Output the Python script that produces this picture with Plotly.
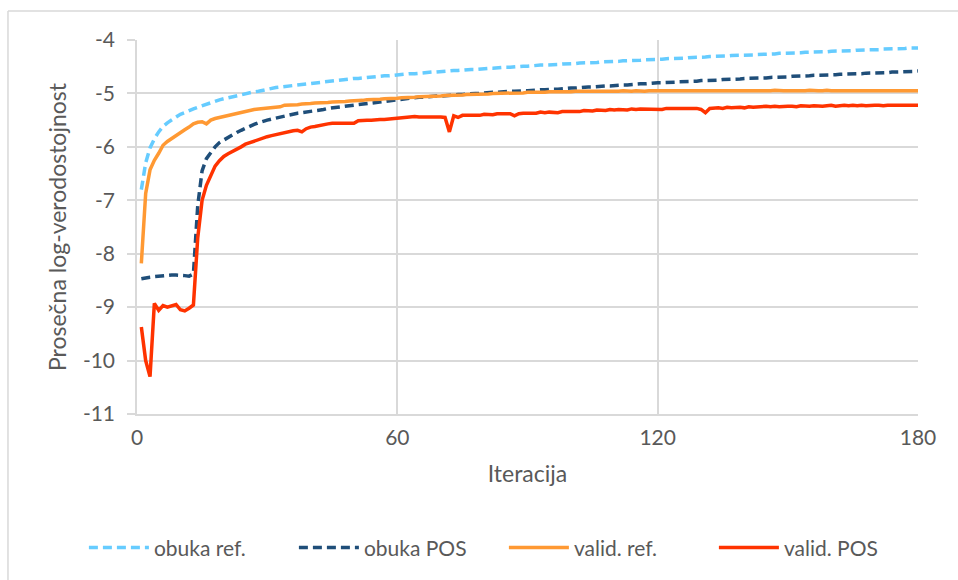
import plotly.graph_objects as go

iterations = list(range(1, 181))

obuka_ref = [
    -6.80, -6.30, -6.02, -5.85, -5.72, -5.62, -5.55, -5.49, -5.44, -5.39,
    -5.36, -5.32, -5.29, -5.26, -5.23, -5.20, -5.17, -5.15, -5.12, -5.10,
    -5.08, -5.06, -5.04, -5.02, -5.00, -4.99, -4.97, -4.96, -4.94, -4.93,
    -4.91, -4.89, -4.88, -4.87, -4.86, -4.85, -4.84, -4.83, -4.82, -4.81,
    -4.80, -4.79, -4.78, -4.77, -4.76, -4.75, -4.75, -4.74, -4.73, -4.72,
    -4.72, -4.71, -4.70, -4.69, -4.69, -4.68, -4.67, -4.67, -4.66, -4.65,
    -4.65, -4.64, -4.63, -4.63, -4.62, -4.61, -4.61, -4.60, -4.60, -4.59,
    -4.58, -4.58, -4.57, -4.57, -4.56, -4.56, -4.55, -4.55, -4.54, -4.54,
    -4.53, -4.53, -4.52, -4.52, -4.51, -4.51, -4.50, -4.50, -4.49, -4.49,
    -4.48, -4.48, -4.47, -4.47, -4.47, -4.46, -4.46, -4.45, -4.45, -4.44,
    -4.44, -4.43, -4.43, -4.43, -4.42, -4.42, -4.41, -4.41, -4.40, -4.40,
    -4.40, -4.39, -4.39, -4.38, -4.38, -4.38, -4.37, -4.37, -4.36, -4.36,
    -4.36, -4.35, -4.35, -4.34, -4.34, -4.34, -4.33, -4.33, -4.32, -4.32,
    -4.32, -4.31, -4.31, -4.31, -4.30, -4.30, -4.29, -4.29, -4.29, -4.28,
    -4.28, -4.28, -4.27, -4.27, -4.26, -4.26, -4.26, -4.25, -4.25, -4.25,
    -4.24, -4.24, -4.24, -4.23, -4.23, -4.23, -4.22, -4.22, -4.22, -4.21,
    -4.21, -4.21, -4.20, -4.20, -4.20, -4.19, -4.19, -4.19, -4.18, -4.18,
    -4.18, -4.17, -4.17, -4.17, -4.16, -4.16, -4.16, -4.15, -4.15, -4.15,
]

obuka_pos = [
    -8.47, -8.45, -8.44, -8.43, -8.42, -8.41, -8.41, -8.40, -8.40, -8.40,
    -8.41, -8.42, -8.38, -7.10, -6.45, -6.22, -6.10, -6.00, -5.92, -5.87,
    -5.82, -5.77, -5.73, -5.69, -5.65, -5.62, -5.58, -5.55, -5.52, -5.50,
    -5.48, -5.46, -5.44, -5.42, -5.41, -5.39, -5.37, -5.36, -5.35, -5.33,
    -5.32, -5.31, -5.30, -5.28, -5.27, -5.26, -5.25, -5.24, -5.23, -5.21,
    -5.20, -5.19, -5.18, -5.17, -5.16, -5.15, -5.14, -5.13, -5.12, -5.11,
    -5.10, -5.09, -5.09, -5.08, -5.07, -5.07, -5.06, -5.06, -5.05, -5.05,
    -5.04, -5.03, -5.03, -5.02, -5.02, -5.01, -5.01, -5.00, -5.00, -4.99,
    -4.99, -4.98, -4.98, -4.97, -4.97, -4.96, -4.96, -4.95, -4.95, -4.95,
    -4.94, -4.94, -4.93, -4.93, -4.92, -4.92, -4.92, -4.91, -4.91, -4.90,
    -4.90, -4.89, -4.89, -4.88, -4.88, -4.87, -4.87, -4.86, -4.86, -4.85,
    -4.85, -4.84, -4.84, -4.83, -4.83, -4.82, -4.82, -4.81, -4.81, -4.80,
    -4.80, -4.80, -4.79, -4.79, -4.78, -4.78, -4.78, -4.77, -4.77, -4.76,
    -4.76, -4.76, -4.75, -4.75, -4.74, -4.74, -4.74, -4.73, -4.73, -4.72,
    -4.72, -4.72, -4.71, -4.71, -4.71, -4.70, -4.70, -4.69, -4.69, -4.69,
    -4.68, -4.68, -4.68, -4.67, -4.67, -4.66, -4.66, -4.66, -4.65, -4.65,
    -4.65, -4.64, -4.64, -4.64, -4.63, -4.63, -4.63, -4.62, -4.62, -4.62,
    -4.61, -4.61, -4.61, -4.60, -4.60, -4.60, -4.59, -4.59, -4.59, -4.58,
]

valid_ref = [
    -8.18, -6.87, -6.43, -6.25, -6.12, -5.97, -5.90, -5.84, -5.78, -5.72,
    -5.68, -5.63, -5.57, -5.54, -5.53, -5.57, -5.50, -5.47, -5.45, -5.43,
    -5.41, -5.39, -5.37, -5.35, -5.33, -5.31, -5.30, -5.29, -5.28, -5.27,
    -5.27, -5.26, -5.25, -5.22, -5.22, -5.21, -5.21, -5.20, -5.20, -5.19,
    -5.18, -5.18, -5.17, -5.17, -5.16, -5.16, -5.15, -5.15, -5.14, -5.14,
    -5.13, -5.13, -5.12, -5.12, -5.11, -5.11, -5.10, -5.10, -5.09, -5.09,
    -5.08, -5.08, -5.07, -5.07, -5.06, -5.06, -5.06, -5.05, -5.05, -5.05,
    -5.04, -5.04, -5.04, -5.03, -5.03, -5.02, -5.02, -5.02, -5.01, -5.01,
    -5.01, -5.00, -5.00, -5.00, -5.00, -4.99, -4.99, -4.99, -4.99, -4.98,
    -4.98, -4.98, -4.99, -4.98, -4.97, -4.97, -4.97, -4.98, -4.97, -4.97,
    -4.96, -4.96, -4.97, -4.96, -4.96, -4.96, -4.97, -4.96, -4.96, -4.96,
    -4.96, -4.95, -4.96, -4.96, -4.95, -4.96, -4.96, -4.95, -4.95, -4.96,
    -4.96, -4.95, -4.96, -4.95, -4.96, -4.95, -4.95, -4.96, -4.95, -4.95,
    -4.96, -4.95, -4.95, -4.95, -4.96, -4.95, -4.95, -4.95, -4.96, -4.95,
    -4.95, -4.95, -4.96, -4.95, -4.95, -4.95, -4.94, -4.95, -4.95, -4.95,
    -4.95, -4.96, -4.95, -4.95, -4.94, -4.95, -4.95, -4.95, -4.94, -4.95,
    -4.95, -4.94, -4.95, -4.95, -4.95, -4.94, -4.95, -4.94, -4.95, -4.95,
    -4.94, -4.95, -4.94, -4.95, -4.94, -4.94, -4.95, -4.94, -4.94, -4.95,
]

valid_pos = [
    -9.37, -10.00, -10.30, -8.93, -9.06, -8.97, -9.00, -8.98, -8.95, -9.05,
    -9.07, -9.02, -8.96, -7.70, -7.00, -6.72, -6.52, -6.36, -6.26, -6.18,
    -6.13, -6.09, -6.05, -6.00, -5.95, -5.92, -5.89, -5.87, -5.84, -5.81,
    -5.79, -5.77, -5.75, -5.73, -5.71, -5.70, -5.69, -5.72, -5.66, -5.63,
    -5.62, -5.60, -5.58, -5.57, -5.56, -5.56, -5.57, -5.56, -5.56, -5.56,
    -5.51, -5.50, -5.50, -5.50, -5.49, -5.49, -5.49, -5.48, -5.47, -5.46,
    -5.45, -5.45, -5.44, -5.43, -5.44, -5.44, -5.44, -5.43, -5.43, -5.44,
    -5.45, -5.72, -5.42, -5.45, -5.41, -5.41, -5.40, -5.40, -5.41, -5.39,
    -5.39, -5.40, -5.38, -5.38, -5.37, -5.38, -5.42, -5.38, -5.37, -5.37,
    -5.36, -5.37, -5.35, -5.36, -5.35, -5.35, -5.36, -5.34, -5.34, -5.33,
    -5.33, -5.34, -5.32, -5.32, -5.33, -5.31, -5.31, -5.32, -5.30, -5.31,
    -5.30, -5.30, -5.31, -5.29, -5.30, -5.29, -5.29, -5.30, -5.29, -5.29,
    -5.30, -5.28, -5.28, -5.29, -5.28, -5.28, -5.28, -5.29, -5.28, -5.30,
    -5.36, -5.28, -5.27, -5.27, -5.28, -5.26, -5.27, -5.26, -5.26, -5.27,
    -5.25, -5.26, -5.25, -5.25, -5.24, -5.25, -5.24, -5.25, -5.24, -5.24,
    -5.24, -5.25, -5.23, -5.24, -5.24, -5.23, -5.24, -5.24, -5.23, -5.22,
    -5.24, -5.23, -5.22, -5.23, -5.22, -5.23, -5.22, -5.23, -5.22, -5.22,
    -5.22, -5.23, -5.22, -5.22, -5.21, -5.22, -5.22, -5.22, -5.22, -5.22,
]

series_names = ["obuka ref.", "obuka POS", "valid. ref.", "valid. POS"]
x_tick_vals = [0, 60, 120, 180]
y_tick_vals = [-4, -5, -6, -7, -8, -9, -10, -11]
y_tick_text = ["-4", "-5", "-6", "-7", "-8", "-9", "-10", "-11"]

FONT = "Lato, 'Open Sans', sans-serif"
TXT = "#595959"
GRID = "#d9d9d9"

fig = go.Figure()
styles = [
    dict(color="#66CCFF", width=3.5, dash="9px,5px"),
    dict(color="#1F4E79", width=3.5, dash="9px,5px"),
    dict(color="#FF9933", width=3.5),
    dict(color="#FF3300", width=3.5),
]
for name, ys, st in zip(series_names, [obuka_ref, obuka_pos, valid_ref, valid_pos], styles):
    fig.add_trace(go.Scatter(x=iterations, y=ys, mode="lines", name=name,
                             line=st, hoverinfo="skip"))

fig.update_layout(
    width=958, height=580,
    margin=dict(l=137, r=40, t=40, b=166, autoexpand=False),
    paper_bgcolor="white", plot_bgcolor="white",
    font=dict(family=FONT, color=TXT, size=21),
    xaxis=dict(
        range=[0, 180], tickvals=x_tick_vals, ticks="",
        showgrid=True, gridcolor=GRID, gridwidth=1.5,
        showline=True, linecolor=GRID, linewidth=1.5,
        zeroline=False, ticklabelstandoff=4,
        tickfont=dict(size=21, color=TXT),
        title=dict(text="Iteracija", font=dict(size=23, color=TXT), standoff=18),
    ),
    xaxis2=dict(
        overlaying="x", side="top", anchor="y", range=[0, 180],
        tickvals=x_tick_vals, ticks="outside", ticklen=7, tickwidth=1.5,
        tickcolor=GRID, showticklabels=False, showgrid=False,
        showline=True, linecolor=GRID, linewidth=1.5, zeroline=False,
        minor=dict(ticks="inside", ticklen=5, tickwidth=1.5, tickcolor=GRID,
                   dtick=30, tick0=0, showgrid=False),
    ),
    yaxis=dict(
        range=[-11, -4], tickvals=y_tick_vals, ticktext=y_tick_text,
        ticks="outside", ticklen=8,
        tickwidth=1.5, tickcolor=GRID,
        showgrid=True, gridcolor=GRID, gridwidth=1.5,
        showline=True, linecolor=GRID, linewidth=1.5, zeroline=False,
        ticklabelstandoff=8,
        tickfont=dict(size=21, color=TXT),
        title=dict(text="Prosečna log-verodostojnost", font=dict(size=23, color=TXT), standoff=10),
    ),
    legend=dict(
        orientation="h", x=-0.068, xanchor="left", y=-0.358, yanchor="middle",
        font=dict(size=21, color=TXT), entrywidth=135, itemwidth=60,
        bgcolor="rgba(0,0,0,0)",
    ),
    shapes=[
        dict(type="line", xref="paper", yref="paper", x0=-0.1652, x1=-0.1652,
             y0=1.0775, y1=-0.6, line=dict(color=GRID, width=1.5)),
        dict(type="line", xref="paper", yref="paper", x0=-0.1652, x1=1.2,
             y0=1.0775, y1=1.0775, line=dict(color=GRID, width=1.5)),
    ],
)

fig.write_html("out.html")
